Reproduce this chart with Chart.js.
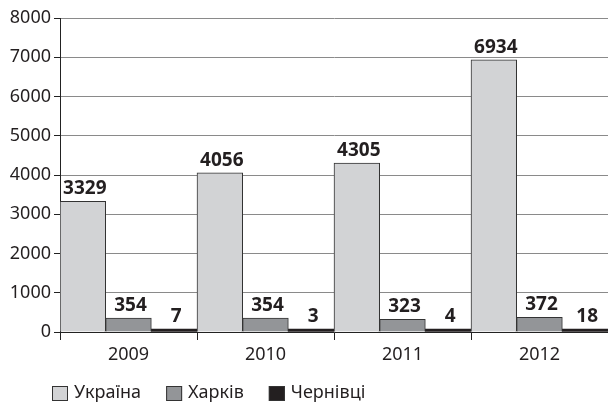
<!DOCTYPE html>
<html>
<head>
<meta charset="utf-8">
<script src="https://cdn.jsdelivr.net/npm/chart.js@4/dist/chart.umd.min.js"></script>
<style>
  html, body { margin: 0; padding: 0; background: #fff; }
  #wrap { width: 608px; height: 403px; }
</style>
</head>
<body>
<div id="wrap"><canvas id="chart"></canvas></div>
<script>
const years = ['2009', '2010', '2011', '2012'];
const seriesNames = ['Україна', 'Харків', 'Чернівці'];
const ukraine = [3329, 4056, 4305, 6934];
const kharkiv = [354, 354, 323, 372];
const chernivtsi = [7, 3, 4, 18];
const yTicks = [0, 1000, 2000, 3000, 4000, 5000, 6000, 7000, 8000];

const fills = ['#d2d3d5', '#939598', '#231f20'];
const FONT = '"Noto Sans", "DejaVu Sans", sans-serif';

// value labels above each bar
const valueLabels = {
  id: 'valueLabels',
  afterDatasetsDraw(chart) {
    const ctx = chart.ctx;
    ctx.save();
    ctx.font = 'bold 19px ' + FONT;
    ctx.fillStyle = '#231f20';
    ctx.textAlign = 'center';
    ctx.textBaseline = 'bottom';
    chart.data.datasets.forEach((ds, i) => {
      chart.getDatasetMeta(i).data.forEach((bar, j) => {
        ctx.fillText(String(ds.data[j]), bar.x + 2, bar.y - 3);
      });
    });
    ctx.restore();
  }
};

// legend drawn under the axis, starting near the left edge
const bottomLegend = {
  id: 'bottomLegend',
  afterDraw(chart) {
    const ctx = chart.ctx;
    const y = 393;
    let x = 52;
    ctx.save();
    ctx.font = '18px ' + FONT;
    ctx.textBaseline = 'middle';
    seriesNames.forEach((name, i) => {
      ctx.fillStyle = fills[i];
      ctx.fillRect(x, y - 7, 16, 15);
      ctx.strokeStyle = '#333';
      ctx.lineWidth = 1;
      ctx.strokeRect(x + 0.5, y - 6.5, 15, 14);
      ctx.fillStyle = '#231f20';
      ctx.fillText(name, x + 22, y);
      x += 22 + ctx.measureText(name).width + 25;
    });
    ctx.restore();
  }
};

new Chart(document.getElementById('chart'), {
  type: 'bar',
  data: {
    labels: years,
    datasets: [
      { label: seriesNames[0], data: ukraine, backgroundColor: fills[0], borderColor: '#333', borderWidth: 1 },
      { label: seriesNames[1], data: kharkiv, backgroundColor: fills[1], borderColor: '#333', borderWidth: 1 },
      { label: seriesNames[2], data: chernivtsi, backgroundColor: fills[2], borderColor: fills[2], borderWidth: 0, minBarLength: 3 }
    ]
  },
  options: {
    responsive: true,
    maintainAspectRatio: false,
    animation: false,
    layout: { padding: { top: 18, right: 0, bottom: 35, left: 0 } },
    categoryPercentage: 1,
    barPercentage: 1,
    plugins: {
      legend: { display: false },
      tooltip: { enabled: false }
    },
    scales: {
      x: {
        afterFit(scale) { scale.height = 36; },
        grid: { drawOnChartArea: false, offset: true, tickLength: 8, color: '#222' },
        border: { color: '#222', width: 1 },
        ticks: { color: '#231f20', padding: 4, font: { family: FONT, size: 18 } }
      },
      y: {
        min: 0,
        max: 8000,
        afterFit(scale) { scale.width = 60; },
        afterBuildTicks(scale) { scale.ticks = yTicks.map(v => ({ value: v })); },
        grid: { color: '#8a8a8a', tickColor: '#222', tickLength: 6 },
        border: { color: '#222', width: 1 },
        ticks: { color: '#231f20', padding: 3, font: { family: FONT, size: 18 }, callback: v => String(v) }
      }
    }
  },
  plugins: [valueLabels, bottomLegend]
});
</script>
</body>
</html>
